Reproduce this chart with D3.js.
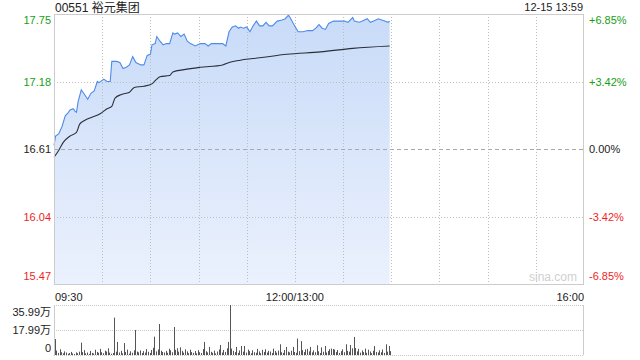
<!DOCTYPE html>
<html>
<head>
<meta charset="utf-8">
<script src="https://cdn.jsdelivr.net/npm/d3@7"></script>
<style>
  body { margin: 0; background: #fff; }
  svg text { font-family: "Liberation Sans", Arial, "Noto Sans CJK SC", sans-serif; }
</style>
</head>
<body>
<svg id="chart" width="640" height="360"></svg>
<script>
const stockTitle = '00551 裕元集团';
const stampText = '12-15 13:59';
const prevClose = 16.61;

const priceTicks = [17.75, 17.18, 16.61, 16.04, 15.47];
const pctTicks = ['+6.85%', '+3.42%', '0.00%', '-3.42%', '-6.85%'];
const timeTicks = ['09:30', '12:00/13:00', '16:00'];
const volTicks = [35.99, 17.99, 0];
const volTickLabels = ['35.99万', '17.99万', '0'];

// price line
const priceTimes = ['09:30', '09:31', '09:33', '09:35', '09:37', '09:39', '09:40', '09:42', '09:43', '09:44',
    '09:45', '09:47', '09:49', '09:51', '09:53', '09:55', '09:57', '09:58', '10:01', '10:03',
    '10:05', '10:06', '10:09', '10:11', '10:13', '10:15', '10:17', '10:19', '10:21', '10:24',
    '10:26', '10:28', '10:30', '10:31', '10:33', '10:34', '10:36', '10:38', '10:40', '10:42',
    '10:44', '10:45', '10:47', '10:49', '10:51', '10:53', '10:55', '10:58', '11:01', '11:04',
    '11:06', '11:08', '11:11', '11:13', '11:15', '11:17', '11:19', '11:21', '11:23', '11:25',
    '11:26', '11:28', '11:30', '11:32', '11:34', '11:36', '11:38', '11:40', '11:42', '11:44',
    '11:46', '11:49', '11:52', '11:54', '11:56', '11:57', '11:59', '13:02', '13:05', '13:08',
    '13:11', '13:13', '13:15', '13:17', '13:19', '13:21', '13:24', '13:27', '13:31', '13:33',
    '13:36', '13:37', '13:40', '13:42', '13:45', '13:47', '13:49', '13:52', '13:54', '13:56',
    '13:58', '13:59'];
const priceValues = [16.64, 16.72, 16.74, 16.80, 16.89, 16.92, 16.94, 16.95, 16.93, 16.92,
    17.01, 17.11, 17.07, 17.03, 17.08, 17.10, 17.18, 17.17, 17.20, 17.18,
    17.18, 17.35, 17.35, 17.34, 17.29, 17.30, 17.32, 17.39, 17.34, 17.32,
    17.32, 17.40, 17.41, 17.49, 17.50, 17.56, 17.52, 17.49, 17.50, 17.50,
    17.59, 17.58, 17.59, 17.56, 17.58, 17.52, 17.50, 17.48, 17.50, 17.50,
    17.48, 17.50, 17.50, 17.50, 17.50, 17.48, 17.60, 17.64, 17.65, 17.63,
    17.64, 17.63, 17.64, 17.60, 17.65, 17.69, 17.65, 17.65, 17.68, 17.65,
    17.65, 17.69, 17.70, 17.71, 17.74, 17.72, 17.67, 17.60, 17.60, 17.61,
    17.61, 17.63, 17.66, 17.63, 17.62, 17.67, 17.69, 17.69, 17.69, 17.68,
    17.72, 17.69, 17.68, 17.69, 17.71, 17.68, 17.69, 17.71, 17.70, 17.69,
    17.68, 17.69];

// average price line
const avgTimes = ['09:30', '09:33', '09:36', '09:40', '09:44', '09:46', '09:49', '09:54', '09:59', '10:03',
    '10:06', '10:08', '10:12', '10:17', '10:20', '10:26', '10:31', '10:34', '10:36', '10:42',
    '10:44', '10:51', '11:01', '11:15', '11:19', '11:26', '11:38', '11:55', '13:16', '13:36', '13:59'];
const avgValues = [16.54, 16.60, 16.67, 16.72, 16.75, 16.82, 16.85, 16.88, 16.91, 16.95,
    16.97, 17.04, 17.07, 17.09, 17.13, 17.14, 17.16, 17.20, 17.22, 17.23,
    17.26, 17.28, 17.30, 17.32, 17.34, 17.36, 17.38, 17.41, 17.43, 17.46, 17.48];

// volume per minute from 09:30, in 万
const volumes = [11.5, 3.2, 1.5, 4.1, 2.0, 1.2, 2.6, 1.8, 0.9, 1.4, 2.2, 1.1, 0.7, 1.9, 1.3, 2.4,
    8.9, 2.1, 3.5, 1.2, 1.8, 0.8, 2.9, 1.5, 1.1, 3.8, 2.2, 1.6, 4.4, 2.0, 1.3, 3.1, 2.5, 4.8, 1.7, 0.9, 1.4,
    26.9, 2.4, 9.4, 1.8, 3.0, 1.2, 8.6, 2.2, 3.9, 1.0, 2.7, 1.6, 3.4, 18.0, 2.5, 1.9, 3.3, 1.4, 2.8, 1.7,
    4.2, 2.3, 1.5, 3.6, 5.2, 13.2, 2.6, 4.0, 22.3, 3.1, 2.2, 1.8, 2.9, 1.6, 4.5, 3.4, 2.0, 20.2, 3.7, 4.9,
    2.4, 5.5, 3.0, 1.7, 4.1, 2.6, 1.3, 3.8, 2.1, 1.5, 2.9, 1.2, 3.5, 2.0, 1.4, 4.3, 9.4, 2.7, 1.9, 5.8,
    2.3, 1.6, 3.2, 1.1, 2.5, 4.0, 7.2, 1.8, 3.6, 2.2, 4.8, 9.4, 36.0, 4.6, 3.0, 2.1, 5.8, 1.5, 3.3, 6.5,
    2.4, 6.5, 1.7, 3.9, 2.8, 1.2, 3.4, 2.0, 1.6, 4.4, 2.6, 1.3, 3.7, 2.2, 4.1, 1.8, 3.0, 2.5, 1.4, 4.6,
    2.9, 1.7, 3.2, 7.7, 2.0, 1.5, 3.6, 5.8, 2.4, 1.9, 3.1, 5.8, 2.2, 1.6, 11.8, 2.8, 10.0, 3.5, 2.1, 4.0,
    4.4, 2.6, 5.8, 1.9, 3.3, 2.0, 7.0, 2.7, 1.4, 5.5, 2.3, 6.5, 1.8, 2.9, 4.2, 4.6, 4.3, 3.9, 2.2, 3.6,
    1.5, 2.8, 4.1, 2.0, 7.7, 3.0, 2.4, 7.2, 4.8, 13.0, 5.0, 2.6, 4.4, 1.7, 3.3, 2.1, 4.6, 1.6, 3.8, 2.5,
    1.3, 3.1, 6.5, 2.2, 1.8, 3.4, 2.0, 4.0, 1.5, 7.7, 2.4, 6.5, 2.8];

const green = '#16a016', red = '#f01e1e', dark = '#222';
const plotL = 54, plotR = 584, plotT = 14, plotB = 284;
const volT = 305, volB = 355;

// trading minutes since 09:30, lunch break folded out
const toMinute = t => {
    const [h, m] = t.split(':').map(Number);
    const mm = h * 60 + m;
    return mm >= 13 * 60 ? mm - 13 * 60 + 150 : mm - (9 * 60 + 30);
};

const svg = d3.select('#chart');

const x = d3.scaleLinear().domain([0, 330]).range([plotL, plotR]);
const y = d3.scaleLinear().domain([15.47, 17.75]).range([plotB, plotT]);
const yv = d3.scaleLinear().domain([0, 35.99]).range([volB, volT]);

const defs = svg.append('defs');
const grad = defs.append('linearGradient')
    .attr('id', 'areaFill')
    .attr('x1', 0).attr('y1', 0).attr('x2', 0).attr('y2', 1);
grad.append('stop').attr('offset', '0%').attr('stop-color', '#c8dbf8');
grad.append('stop').attr('offset', '100%').attr('stop-color', '#ebf1fd');

const pricePts = priceTimes.map((t, i) => [toMinute(t), priceValues[i]]);
const avgPts = avgTimes.map((t, i) => [toMinute(t), avgValues[i]]);

// area first, grid drawn over it
svg.append('path')
    .datum(pricePts)
    .attr('fill', 'url(#areaFill)')
    .attr('d', d3.area().x(d => x(d[0])).y0(plotB).y1(d => y(d[1])));

const grid = svg.append('g');
d3.range(30, 330, 30).forEach(m => {
    grid.append('line')
        .attr('x1', Math.round(x(m)) + 0.5).attr('x2', Math.round(x(m)) + 0.5)
        .attr('y1', plotT).attr('y2', plotB)
        .attr('stroke', '#bdbdbd').attr('stroke-dasharray', '1,2');
});
priceTicks.slice(1, 4).forEach(p => {
    const isMid = p === prevClose;
    grid.append('line')
        .attr('x1', plotL).attr('x2', plotR)
        .attr('y1', Math.round(y(p)) + 0.5).attr('y2', Math.round(y(p)) + 0.5)
        .attr('stroke', isMid ? '#aaaaaa' : '#bdbdbd')
        .attr('stroke-dasharray', isMid ? '4,3' : '1,2');
});

svg.append('text')
    .attr('x', 553).attr('y', 281)
    .attr('text-anchor', 'middle')
    .attr('font-size', 12).attr('fill', '#cfcfcf')
    .text('sina.com');

svg.append('path')
    .datum(pricePts)
    .attr('fill', 'none').attr('stroke', '#4f8ae9').attr('stroke-width', 1.1)
    .attr('d', d3.line().x(d => x(d[0])).y(d => y(d[1])));

svg.append('path')
    .datum(avgPts)
    .attr('fill', 'none').attr('stroke', '#2b2f3a').attr('stroke-width', 1.1)
    .attr('d', d3.line().curve(d3.curveMonotoneX).x(d => x(d[0])).y(d => y(d[1])));

// frame
svg.append('rect')
    .attr('x', plotL + 0.5).attr('y', plotT + 0.5)
    .attr('width', plotR - plotL - 1).attr('height', plotB - plotT)
    .attr('fill', 'none').attr('stroke', '#cccccc');

// axis labels
const colorFor = i => i < 2 ? green : (i === 2 ? dark : red);
const labelY = i => {
    const yy = y(priceTicks[i]);
    if (i === 0) return yy + 10;
    if (i === 4) return yy - 4;
    return yy + 4;
};
svg.append('g').selectAll('text')
    .data(priceTicks)
    .join('text')
    .attr('x', 51).attr('y', (d, i) => labelY(i))
    .attr('text-anchor', 'end').attr('font-size', 11)
    .attr('fill', (d, i) => colorFor(i))
    .text(d => d.toFixed(2));
svg.append('g').selectAll('text')
    .data(pctTicks)
    .join('text')
    .attr('x', 589).attr('y', (d, i) => labelY(i))
    .attr('font-size', 11)
    .attr('fill', (d, i) => colorFor(i))
    .text(d => d);

svg.append('text')
    .attr('x', 55).attr('y', 12)
    .attr('font-size', 12).attr('fill', dark)
    .text(stockTitle);
svg.append('text')
    .attr('x', 583).attr('y', 11)
    .attr('text-anchor', 'end').attr('font-size', 11).attr('fill', dark)
    .text(stampText);

// time labels
const timePos = [0, 150, 330];
const timeAnchor = ['start', 'middle', 'end'];
svg.append('g').selectAll('text')
    .data(timeTicks)
    .join('text')
    .attr('x', (d, i) => x(timePos[i]) + (i === 0 ? 1 : 0))
    .attr('y', 301)
    .attr('text-anchor', (d, i) => timeAnchor[i])
    .attr('font-size', 11).attr('fill', dark)
    .text(d => d);

// volume panel
const vol = svg.append('g');
volTicks.forEach(v => {
    vol.append('line')
        .attr('x1', plotL).attr('x2', plotR)
        .attr('y1', Math.round(yv(v)) + 0.5).attr('y2', Math.round(yv(v)) + 0.5)
        .attr('stroke', '#c8c8c8').attr('stroke-dasharray', '1,1');
});
vol.append('line')
    .attr('x1', plotL + 0.5).attr('x2', plotL + 0.5).attr('y1', volT).attr('y2', volB)
    .attr('stroke', '#cccccc');
vol.append('line')
    .attr('x1', plotR - 0.5).attr('x2', plotR - 0.5).attr('y1', volT).attr('y2', volB)
    .attr('stroke', '#cccccc');

vol.selectAll('rect')
    .data(volumes)
    .join('rect')
    .attr('x', (d, i) => Math.round(x(i + 0.5)))
    .attr('y', d => yv(d))
    .attr('width', 1)
    .attr('height', d => volB - yv(d))
    .attr('fill', '#555');

vol.selectAll('text')
    .data(volTicks)
    .join('text')
    .attr('x', 51)
    .attr('y', (d, i) => [316, 334, 352][i])
    .attr('text-anchor', 'end').attr('font-size', 11).attr('fill', dark)
    .text((d, i) => volTickLabels[i]);
</script>
</body>
</html>
